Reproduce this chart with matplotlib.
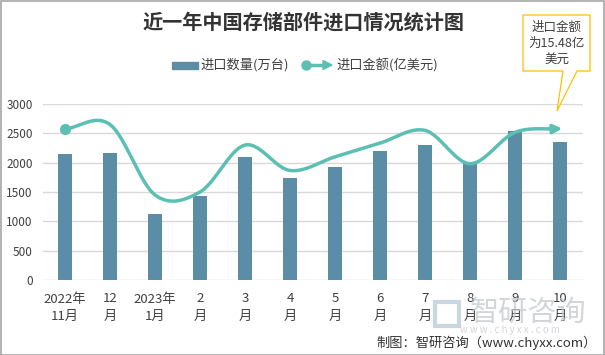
import numpy as np
import matplotlib.pyplot as plt
from matplotlib.patches import Rectangle, Polygon

plt.rcParams['font.family'] = ['Noto Sans CJK SC', 'DejaVu Sans']

months = ['2022年\n11月', '12\n月', '2023年\n1月', '2\n月', '3\n月', '4\n月',
          '5\n月', '6\n月', '7\n月', '8\n月', '9\n月', '10\n月']
qty = [2150, 2170, 1125, 1432, 2097, 1739, 1926, 2199, 2301, 2011, 2540, 2352]   # 万台
amount = [15.44, 15.9, 8.7, 9.0, 13.8, 11.2, 12.6, 14.0, 15.3, 11.9, 15.1, 15.48]  # 亿美元

bar_color = '#5B8EA6'
line_color = '#5CBFB3'
txt_color = '#404040'


def smooth(xs, ys, n=30):
    # catmull-rom curve through the points, like the spreadsheet smoothing
    xs = np.asarray(xs, float)
    ys = np.asarray(ys, float)
    px = np.concatenate([[2 * xs[0] - xs[1]], xs, [2 * xs[-1] - xs[-2]]])
    py = np.concatenate([[2 * ys[0] - ys[1]], ys, [2 * ys[-1] - ys[-2]]])
    outx, outy = [], []
    t = np.linspace(0, 1, n)
    for i in range(1, len(px) - 2):
        for p, out in ((px, outx), (py, outy)):
            p0, p1, p2, p3 = p[i - 1], p[i], p[i + 1], p[i + 2]
            out.extend(0.5 * ((2 * p1) + (-p0 + p2) * t +
                              (2 * p0 - 5 * p1 + 4 * p2 - p3) * t ** 2 +
                              (-p0 + 3 * p1 - 3 * p2 + p3) * t ** 3))
    return np.array(outx), np.array(outy)


def fy(py):
    # pixel row from top -> figure fraction
    return 1 - py / 355


fig = plt.figure(figsize=(6.05, 3.55), dpi=100)
ax = fig.add_axes([42.5 / 605, fy(280), 540 / 605, 176 / 355])
x = np.arange(len(months))
ax.bar(x, qty, width=0.31, color=bar_color, zorder=2)
ax.set_xlim(-0.5, len(months) - 0.5)
ax.set_ylim(0, 3000)
ax.set_yticks(range(0, 3001, 500))
ax.grid(axis='y', color='#D9D9D9', lw=1, zorder=0)
for s in ax.spines.values():
    s.set_visible(False)
ax.tick_params(length=0, colors=txt_color)
ax.tick_params(axis='y', pad=7, labelsize=8.5)
ax.set_xticks(x)
ax.set_xticklabels(months, fontsize=9.5, linespacing=1.45)
ax.tick_params(axis='x', pad=9)

ax2 = ax.twinx()
ax2.set_ylim(0, 18)
ax2.axis('off')
sx, sy = smooth(x, amount)
ax2.plot(sx[:-3], sy[:-3], color=line_color, lw=2.5, solid_capstyle='round', zorder=3)
ax2.plot(x[0], amount[0], 'o', color=line_color, ms=7, zorder=4)
ax2.annotate('', xy=(sx[-1] + 0.05, sy[-1]), xytext=(sx[-4], sy[-4]),
             arrowprops=dict(arrowstyle='-|>', color=line_color, lw=2.5,
                             mutation_scale=13, shrinkA=0, shrinkB=0))

fig.text(303 / 605, fy(22), '近一年中国存储部件进口情况统计图', ha='center', va='center',
         fontsize=14.5, fontweight='bold', color='#333333')

# legend
ly = fy(65)
fig.patches.append(Rectangle((172 / 605, fy(68.5)), 26 / 605, 7 / 355,
                             transform=fig.transFigure, color=bar_color))
fig.text(200 / 605, ly, '进口数量(万台)', va='center', fontsize=9.5, color=txt_color)
fig.lines.append(plt.Line2D([304 / 605, 326 / 605], [ly] * 2, transform=fig.transFigure,
                            color=line_color, lw=2.5))
fig.lines.append(plt.Line2D([306 / 605], [ly], transform=fig.transFigure,
                            color=line_color, marker='o', ms=6.5))
fig.patches.append(Polygon([[323 / 605, fy(60.5)], [332 / 605, ly],
                            [323 / 605, fy(69.5)]], closed=True,
                           transform=fig.transFigure, color=line_color))
fig.text(336 / 605, ly, '进口金额(亿美元)', va='center', fontsize=9.5, color=txt_color)

# callout
box_c = '#FFC000'
fig.patches.append(Polygon([[523 / 605, fy(15)], [590 / 605, fy(15)],
                            [590 / 605, fy(71)], [577 / 605, fy(71)],
                            [557 / 605, fy(111)], [563 / 605, fy(71)],
                            [523 / 605, fy(71)]], closed=True,
                           transform=fig.transFigure, facecolor='white',
                           edgecolor=box_c, lw=0.9))
fig.text(556.5 / 605, fy(43), '进口金额\n为15.48亿\n美元', ha='center', va='center',
         fontsize=9, color=txt_color, linespacing=1.3)

# watermark + source
wm = '#C3C8CD'
fig.patches.append(Rectangle((435 / 605, fy(326)), 24 / 605, 24 / 355,
                             transform=fig.transFigure, facecolor='none',
                             edgecolor='#B4C6D8', lw=3, alpha=0.7))
fig.text(528 / 605, fy(313), '智研咨询', ha='center', va='center', fontsize=21,
         color=wm, alpha=0.75)
fig.text(510 / 605, fy(330), 'w w w . c h y x x . c o m', ha='center', va='center',
         fontsize=7, color=wm, alpha=0.75)
fig.text(597 / 605, fy(343), '制图：智研咨询（www.chyxx.com）', ha='right', va='center',
         fontsize=9.5, color='#333333')

fig.patches.append(Rectangle((0.5 / 605, 0.5 / 355), 603.5 / 605, 353.5 / 355,
                             transform=fig.transFigure, facecolor='none',
                             edgecolor='#A6A6A6', lw=1.2))

fig.savefig('out.png', dpi=100)
